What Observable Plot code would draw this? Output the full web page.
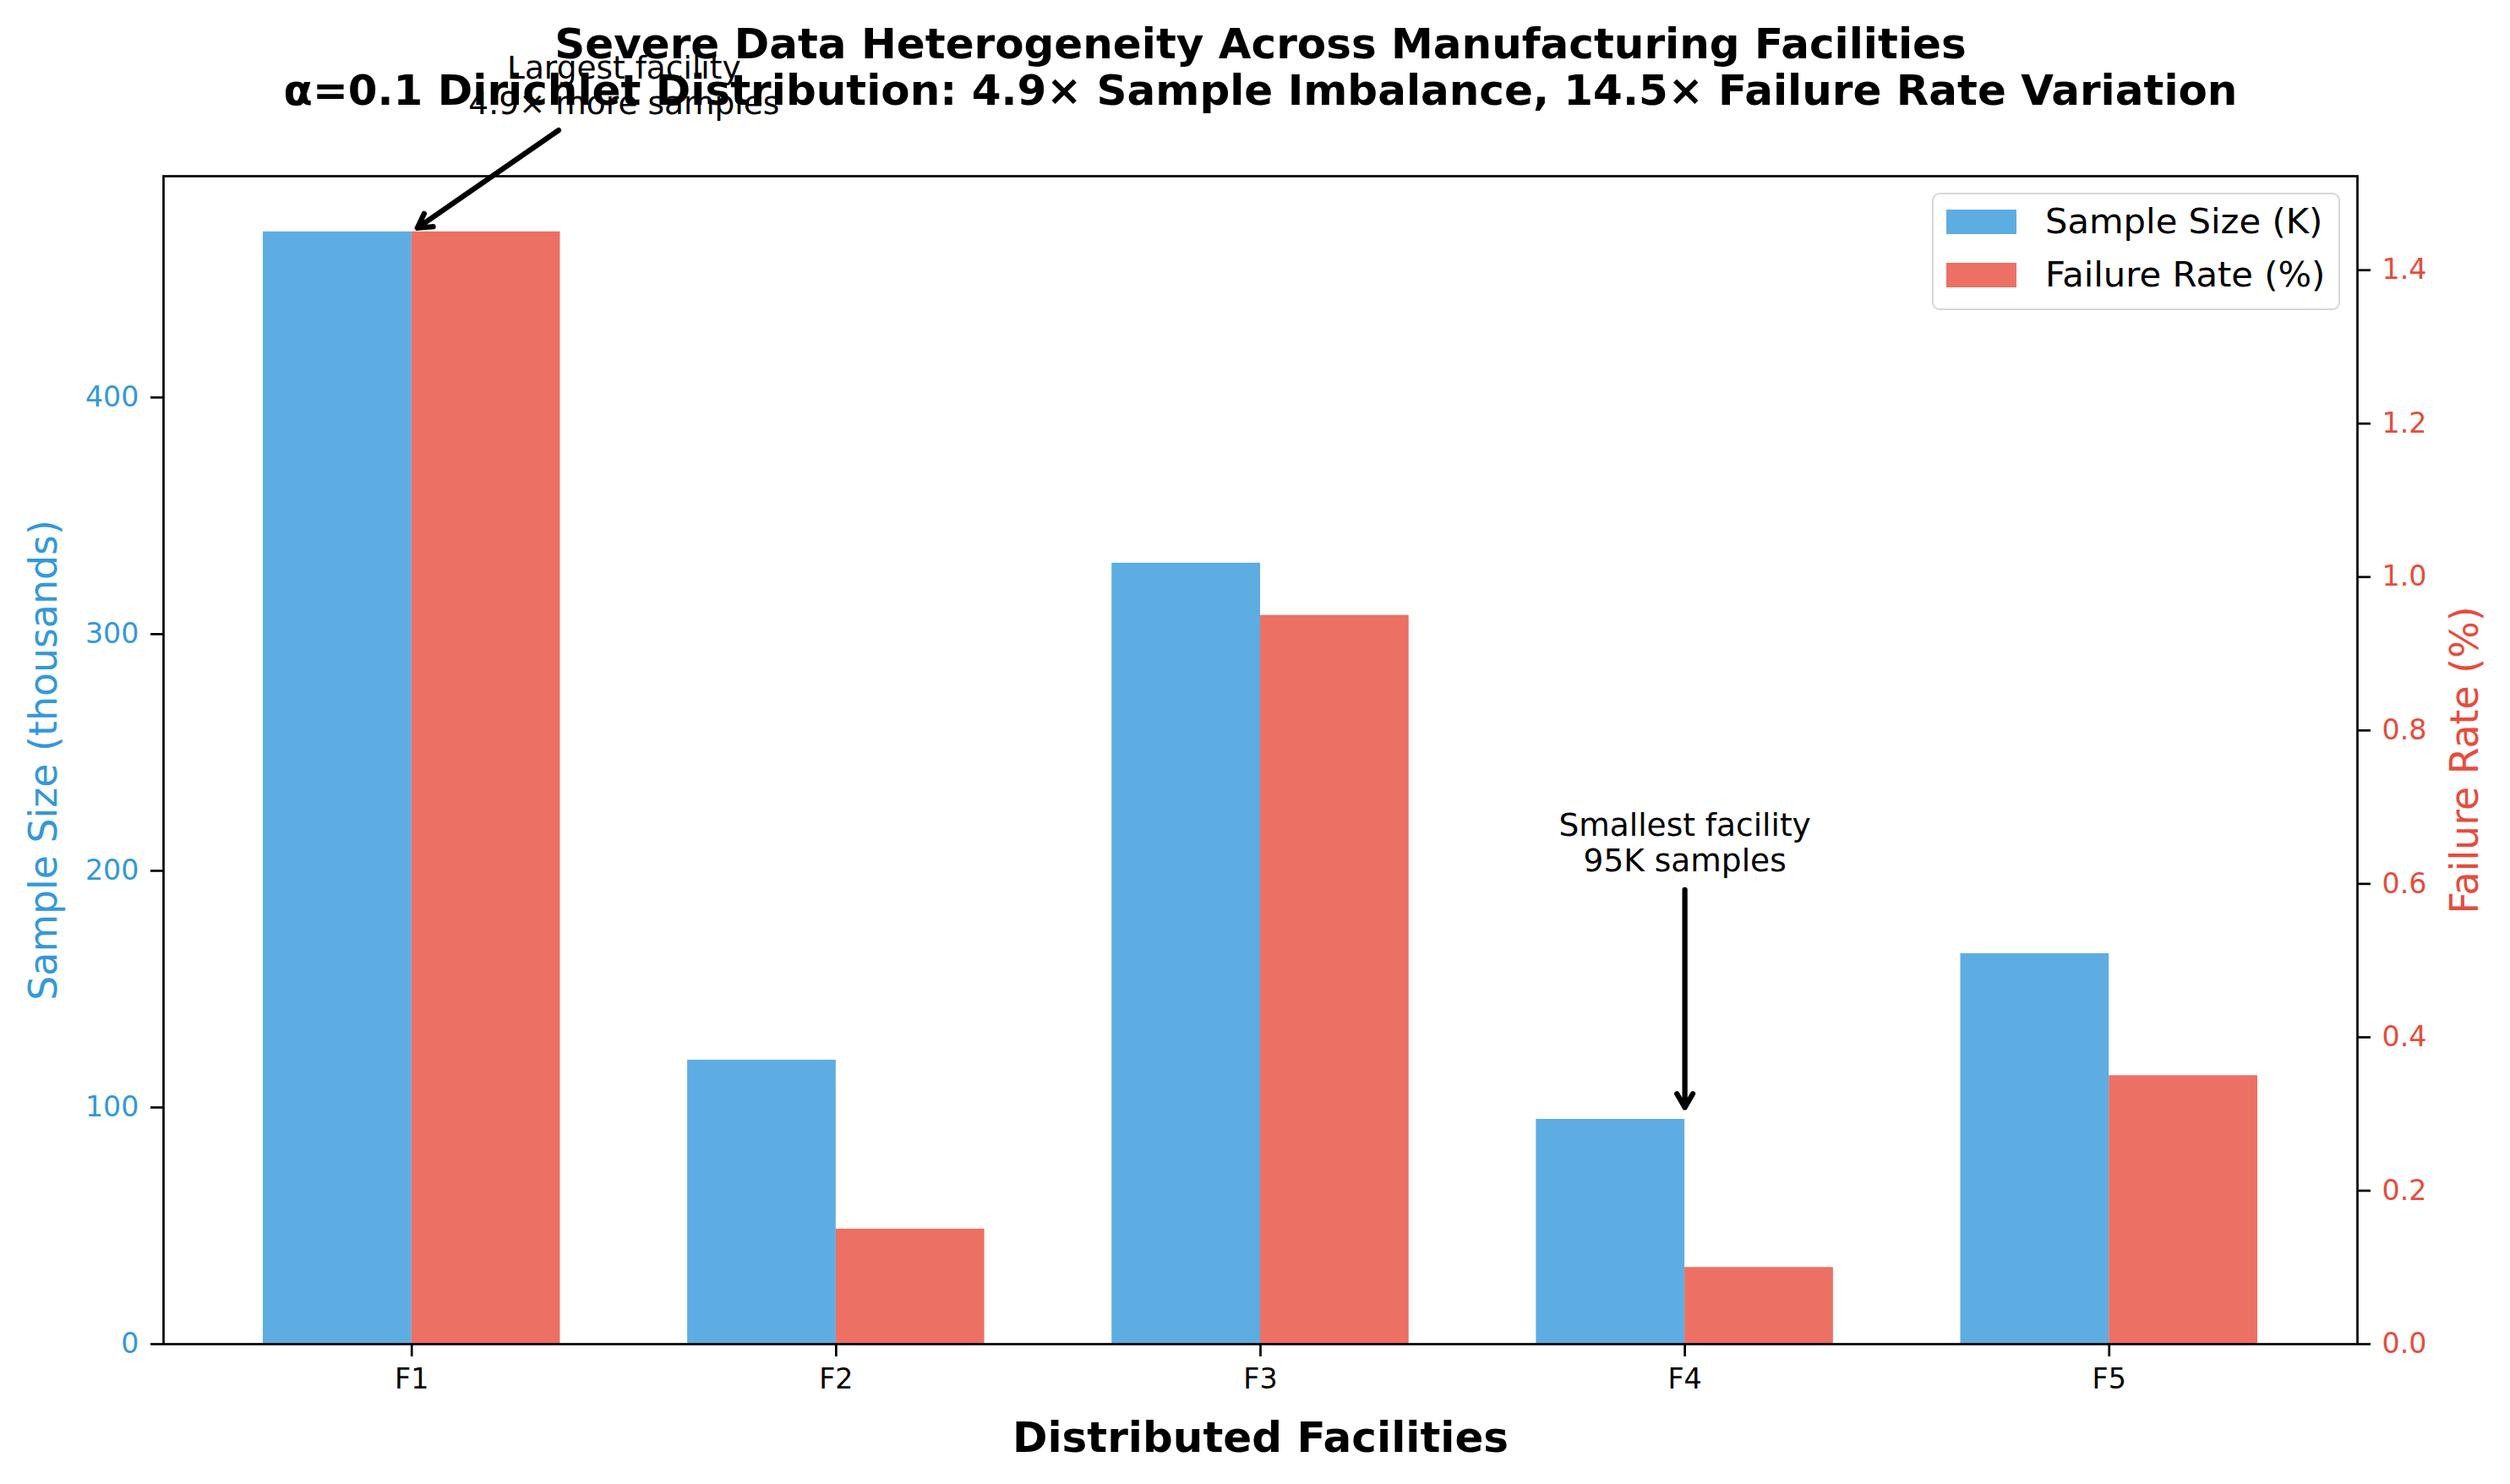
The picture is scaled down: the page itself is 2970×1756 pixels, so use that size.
<!DOCTYPE html>
<html><head><meta charset="utf-8">
<script src="https://cdn.jsdelivr.net/npm/d3@7"></script>
<script src="https://cdn.jsdelivr.net/npm/@observablehq/plot@0.6"></script>
<style>
body{margin:0;background:#fff;}
#chart{width:2970px;height:1756px;}
svg{font-family:"DejaVu Sans",sans-serif;}
</style>
</head><body><div id="chart"></div>
<script>
const facilities = ["F1", "F2", "F3", "F4", "F5"];
const sampleSizes = [470, 120, 330, 95, 165];
const failureRates = [1.45, 0.15, 0.95, 0.10, 0.35];
const leftTicks = [0, 100, 200, 300, 400];
const rightTicks = [0, 0.2, 0.4, 0.6, 0.8, 1.0, 1.2, 1.4];
const titleLines = ["Severe Data Heterogeneity Across Manufacturing Facilities",
  "α=0.1 Dirichlet Distribution: 4.9× Sample Imbalance, 14.5× Failure Rate Variation"];
const xLabel = "Distributed Facilities";
const yLeftLabel = "Sample Size (thousands)";
const yRightLabel = "Failure Rate (%)";
const seriesNames = ["Sample Size (K)", "Failure Rate (%)"];
const annTexts = ["Largest facility\n4.9× more samples", "Smallest facility\n95K samples"];
const annPointX = [0, 3];
const annPointY = [470, 95];
const annTextX = [0.5, 3];
const annTextY = [532, 212];

const BLUE = "#3498db", RED = "#e74c3c";
const W = 0.35;
const n = facilities.length;
const lo = -W, hi = n - 1 + W, padX = 0.05 * (hi - lo);
const yMax = d3.max(sampleSizes) * 1.05;
const fMax = d3.max(failureRates) * 1.05;
const k = yMax / fMax;

const rows = facilities.map((f, i) => ({i, f, sample: sampleSizes[i], fail: failureRates[i]}));
const anns = annTexts.map((t, i) => ({text: t, x: annPointX[i], y: annPointY[i], tx: annTextX[i], ty: annTextY[i]}));
const arrowInsets = [{s: 94, e: 8}, {s: 56, e: 14}];

const FS_TICK = 33.3, FS_LAB = 45.8, FS_TITLE = 50, FS_ANN = 37.5, FS_LEG = 41.7;

const plot = Plot.plot({
  width: 2970, height: 1756,
  marginLeft: 193, marginRight: 181, marginTop: 208, marginBottom: 166,
  style: {fontFamily: "DejaVu Sans", background: "white"},
  x: {type: "linear", domain: [lo - padX, hi + padX], axis: null},
  y: {domain: [0, yMax], axis: null},
  marks: [
    Plot.rectY(rows, {x1: d => d.i - W, x2: d => d.i, y1: 0, y2: "sample", fill: BLUE, fillOpacity: 0.8}),
    Plot.rectY(rows, {x1: d => d.i, x2: d => d.i + W, y1: 0, y2: d => d.fail * k, fill: RED, fillOpacity: 0.8}),
    Plot.frame({stroke: "black", strokeWidth: 2.7}),
    Plot.axisY(leftTicks, {anchor: "left", tickSize: 15, tickPadding: 14, stroke: "black", strokeWidth: 2.7, color: BLUE, fill: BLUE, fontSize: FS_TICK, label: null}),
    Plot.axisY(rightTicks, {anchor: "right", y: d => d * k, tickSize: 15, tickPadding: 14, stroke: "black", strokeWidth: 2.7, color: RED, fill: RED, fontSize: FS_TICK, tickFormat: d => d.toFixed(1), text: d => d.toFixed(1), label: null}),
    Plot.axisX(d3.range(n), {anchor: "bottom", tickSize: 15, tickPadding: 14, stroke: "black", strokeWidth: 2.7, fill: "black", fontSize: FS_TICK, tickFormat: i => facilities[i], text: i => facilities[i], label: null}),
    Plot.text([titleLines.join("\n")], {frameAnchor: "top", lineAnchor: "bottom", dy: -85, lineHeight: 1.1, fontSize: FS_TITLE, fontWeight: "bold", fill: "black"}),
    Plot.text([xLabel], {frameAnchor: "bottom", lineAnchor: "bottom", dy: 127, fontSize: 50, fontWeight: "bold", fill: "black"}),
    Plot.text([yLeftLabel], {frameAnchor: "left", textAnchor: "middle", lineAnchor: "bottom", rotate: -90, dx: -127, fontSize: FS_LAB, fill: BLUE}),
    Plot.text([yRightLabel], {frameAnchor: "right", textAnchor: "middle", lineAnchor: "bottom", rotate: -90, dx: 142, fontSize: FS_LAB, fill: RED}),
    Plot.arrow(anns.slice(0,1), {x1: "tx", y1: "ty", x2: "x", y2: "y", stroke: "black", strokeWidth: 6.25, headLength: 4.5, headAngle: 60, insetStart: arrowInsets[0].s, insetEnd: arrowInsets[0].e}),
    Plot.arrow(anns.slice(1,2), {x1: "tx", y1: "ty", x2: "x", y2: "y", stroke: "black", strokeWidth: 6.25, headLength: 4.5, headAngle: 60, insetStart: arrowInsets[1].s, insetEnd: arrowInsets[1].e}),
    Plot.text(anns, {x: "tx", y: "ty", text: "text", lineAnchor: "middle", lineHeight: 1.1, fontSize: FS_ANN, fill: "black"})
  ]
});
document.getElementById("chart").appendChild(plot);

// legend inside the axes (upper right)
const svg = d3.select(plot);
const frameRight = 2970 - 181, frameTop = 208;
const boxW = 481, boxH = 137;
const bx = frameRight - 21 - boxW, by = frameTop + 21;
const lg = svg.append("g").attr("font-family", "DejaVu Sans").attr("text-anchor", "start");
lg.append("rect").attr("x", bx).attr("y", by).attr("width", boxW).attr("height", boxH)
  .attr("rx", 8).attr("fill", "white").attr("fill-opacity", 0.8)
  .attr("stroke", "#d6d6d6").attr("stroke-width", 2);
const legColors = [BLUE, RED];
seriesNames.forEach((name, i) => {
  const rowY = by + 19 + i * 63;
  lg.append("rect").attr("x", bx + 16).attr("y", rowY).attr("width", 83).attr("height", 29)
    .attr("fill", legColors[i]).attr("fill-opacity", 0.8);
  lg.append("text").attr("x", bx + 133).attr("y", rowY + 28).attr("font-size", FS_LEG)
    .attr("text-anchor", "start").attr("fill", "black").text(name);
});
</script>
</body></html>
